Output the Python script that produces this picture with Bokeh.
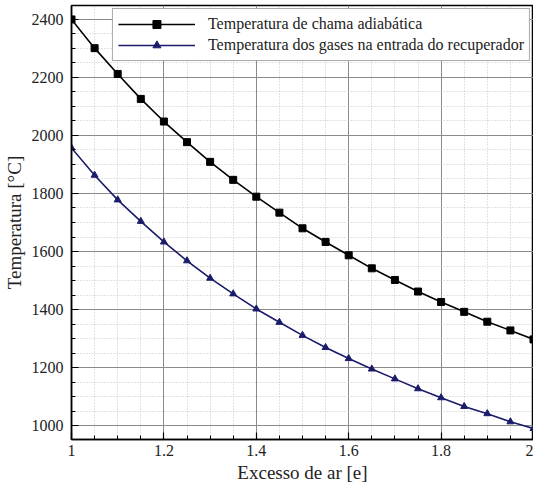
from bokeh.plotting import figure
from bokeh.models import Range1d, FixedTicker, Legend, LegendItem
from bokeh.embed import file_html
from bokeh.resources import INLINE

excesso = [1.00, 1.05, 1.10, 1.15, 1.20, 1.25, 1.30, 1.35, 1.40, 1.45, 1.50,
           1.55, 1.60, 1.65, 1.70, 1.75, 1.80, 1.85, 1.90, 1.95, 2.00]
t_chama = [2400, 2301, 2212, 2126, 2048, 1977, 1909, 1847, 1789, 1734, 1680,
           1633, 1587, 1542, 1502, 1462, 1426, 1392, 1358, 1328, 1297]
t_gases = [1957, 1863, 1778, 1704, 1633, 1568, 1508, 1454, 1402, 1356, 1311,
           1269, 1231, 1195, 1161, 1127, 1096, 1066, 1041, 1013, 990]
x_ticks = [1.0, 1.2, 1.4, 1.6, 1.8, 2.0]
y_ticks = [1000, 1200, 1400, 1600, 1800, 2000, 2200, 2400]
label_chama = "Temperatura de chama adiabática"
label_gases = "Temperatura dos gases na entrada do recuperador"

FONT = "Liberation Serif"
BLUE = "#1b1b6b"

p = figure(width=533, height=485, output_backend="svg", toolbar_location=None,
           x_range=Range1d(1.0, 2.0), y_range=Range1d(952, 2448),
           min_border_left=64, min_border_right=0, min_border_top=5,
           min_border_bottom=46)

p.outline_line_color = "black"
p.outline_line_width = 1.5
p.outline_line_alpha = 1.0
p.background_fill_color = "white"
p.border_fill_color = "white"

for ax in (p.xaxis[0], p.yaxis[0]):
    ax.axis_line_color = "black"
    ax.axis_line_width = 1.5
    ax.major_tick_in = 7
    ax.major_tick_out = 0
    ax.minor_tick_in = 4
    ax.minor_tick_out = 0
    ax.major_tick_line_color = "black"
    ax.major_tick_line_width = 1.2
    ax.minor_tick_line_color = "black"
    ax.major_label_text_font = FONT
    ax.major_label_text_font_size = "16px"
    ax.major_label_text_color = "#222222"
    ax.axis_label_text_font = FONT
    ax.axis_label_text_font_size = "19px"
    ax.axis_label_text_font_style = "normal"
    ax.axis_label_text_color = "#222222"

p.xaxis.ticker = FixedTicker(ticks=x_ticks, minor_ticks=[1 + 0.05 * i for i in range(21)])
p.yaxis.ticker = FixedTicker(ticks=y_ticks, minor_ticks=list(range(950, 2451, 50)))
p.xaxis.major_label_overrides = {1.0: "1", 1.2: "1.2", 1.4: "1.4", 1.6: "1.6", 1.8: "1.8", 2.0: "2"}
p.xaxis.axis_label = "Excesso de ar [e]"
p.yaxis.axis_label = "Temperatura [°C]"
p.xaxis.major_label_standoff = 5
p.yaxis.major_label_standoff = 8
p.xaxis.axis_label_standoff = 3
p.yaxis.axis_label_standoff = 4

for g in (p.xgrid[0], p.ygrid[0]):
    g.grid_line_color = "#8a8a8a"
    g.grid_line_width = 1
    g.minor_grid_line_color = "#c4c4c4"
    g.minor_grid_line_dash = "1 2"
    g.minor_grid_line_width = 1

l1 = p.line(excesso, t_chama, line_color="black", line_width=1.6)
s1 = p.scatter(excesso, t_chama, marker="square", size=7, fill_color="black", line_color="black")
l2 = p.line(excesso, t_gases, line_color=BLUE, line_width=1.6)
s2 = p.scatter(excesso, t_gases, marker="triangle", size=7, fill_color=BLUE, line_color=BLUE)

legend = Legend(items=[LegendItem(label=label_chama, renderers=[l1, s1]),
                       LegendItem(label=label_gases, renderers=[l2, s2])],
                location="top_right")
legend.label_text_font = FONT
legend.label_text_font_size = "16px"
legend.label_text_color = "#222222"
legend.glyph_width = 77
legend.glyph_height = 20
legend.label_height = 20
legend.spacing = 1
legend.padding = 5
legend.margin = 3
legend.label_standoff = 13
legend.border_line_color = "#555555"
legend.border_line_width = 1
legend.background_fill_alpha = 1.0
p.add_layout(legend)

open("out.html", "w").write(file_html(p, INLINE))
